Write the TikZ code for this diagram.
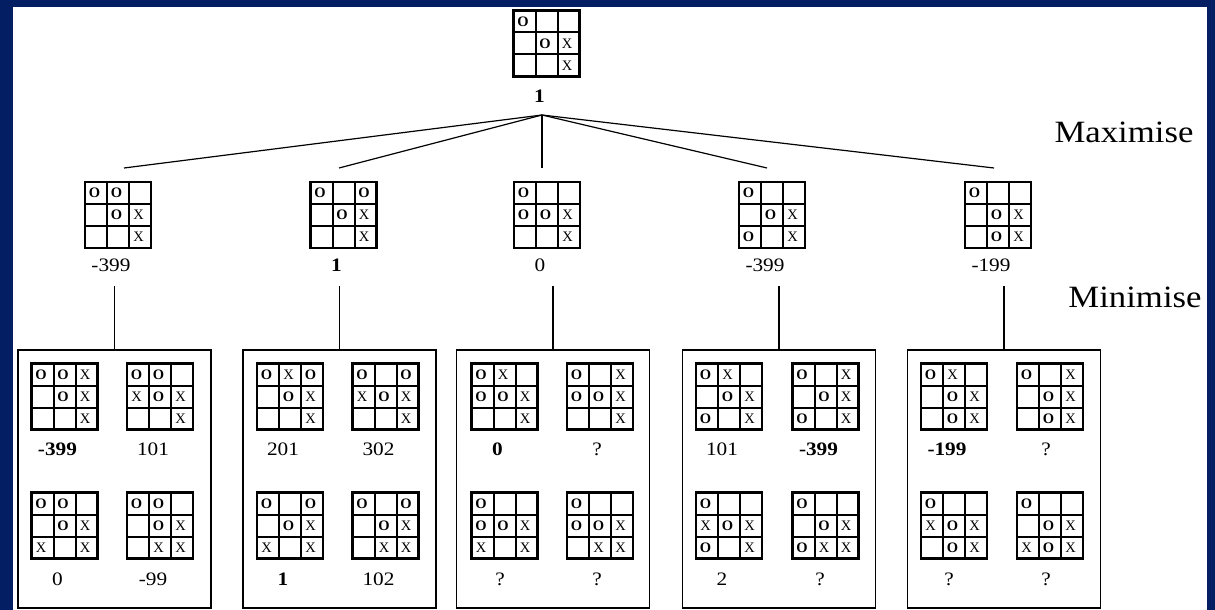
\documentclass[tikz,border=0pt]{standalone}
\usepackage{fontspec}
\setmainfont{Liberation Serif}[FakeStretch=1.12]
\newfontfamily\cellfont{Liberation Serif}
\usetikzlibrary{calc}
\definecolor{navy}{RGB}{4,30,100}
\newcommand{\markO}{\textbf{O}}
\newcommand{\markX}{X}
\tikzset{
  boardbox/.style={draw, line width=2.2pt, minimum width=66pt, minimum height=66pt, inner sep=0pt, outer sep=0pt},
  gridline/.style={line width=2pt},
  cellmark/.style={font=\cellfont\fontsize{14.5}{14.5}\selectfont, inner sep=0pt},
  val/.style={anchor=base, font=\fontsize{19}{22}\selectfont, inner sep=0pt},
  valb/.style={anchor=base, font=\fontsize{19}{22}\selectfont\bfseries, inner sep=0pt},
  side/.style={anchor=base, font=\fontsize{31}{34}\selectfont, inner sep=0pt},
  groupbox/.style={draw, line width=1.6pt, minimum width=193pt, minimum height=258pt, inner sep=0pt, outer sep=0pt},
  conn/.style={line width=1.2pt},
}
% \tttboard{name}{(x,y)}{c/r/symbol list}
\newcommand{\tttboard}[3]{%
  \node[boardbox] (#1) at #2 {};
  \draw[gridline] ($(#1.north west)+(22,0)$) -- ($(#1.south west)+(22,0)$);
  \draw[gridline] ($(#1.north west)+(44,0)$) -- ($(#1.south west)+(44,0)$);
  \draw[gridline] ($(#1.north west)+(0,22)$) -- ($(#1.north east)+(0,22)$);
  \draw[gridline] ($(#1.north west)+(0,44)$) -- ($(#1.north east)+(0,44)$);
  \foreach \c/\r/\s in {#3} {
    \node[cellmark] (#1-\c-\r) at ($(#1.north west)+({\c*22+9.5},{\r*22+11})$) {\s};
  }
}
\begin{document}
\begin{tikzpicture}[x=1pt,y=-1pt]
\useasboundingbox (0,0) rectangle (1215,610);
\fill[navy] (0,0) rectangle (1215,610);
\fill[white] (13,7) rectangle (1207,610);

% root
\tttboard{root}{(546.5,43.5)}{0/0/\markO,1/1/\markO,2/1/\markX,2/2/\markX}
\node[valb] (rootv) at (539.5,102) {1};
\coordinate (j) at (542,115);

% level 1
\tttboard{b1}{(118,215)}{0/0/\markO,1/0/\markO,1/1/\markO,2/1/\markX,2/2/\markX}
\tttboard{b2}{(343.5,215)}{0/0/\markO,2/0/\markO,1/1/\markO,2/1/\markX,2/2/\markX}
\tttboard{b3}{(547,215)}{0/0/\markO,0/1/\markO,1/1/\markO,2/1/\markX,2/2/\markX}
\tttboard{b4}{(772,215)}{0/0/\markO,1/1/\markO,2/1/\markX,0/2/\markO,2/2/\markX}
\tttboard{b5}{(998,215)}{0/0/\markO,1/1/\markO,2/1/\markX,1/2/\markO,2/2/\markX}
\node[val]  (v1) at (111,271) {-399};
\node[valb] (v2) at (336.5,271) {1};
\node[val]  (v3) at (540,271) {0};
\node[val]  (v4) at (765,271) {-399};
\node[val]  (v5) at (991,271) {-199};

\coordinate (t1) at (124,168);
\coordinate (t2) at (339,168);
\coordinate (t3) at (542,168);
\coordinate (t4) at (767,168);
\coordinate (t5) at (994,168);
\foreach \k in {1,...,5} { \draw[conn] (j) -- (t\k); }

\node[side] (maxl) at (1124,142) {Maximise};
\node[side] (minl) at (1135,307) {Minimise};

% group boxes
\node[groupbox] (box1) at (114.5,479) {};
\node[groupbox] (box2) at (339.5,479) {};
\node[groupbox] (box3) at (553,479) {};
\node[groupbox] (box4) at (779,479) {};
\node[groupbox] (box5) at (1004,479) {};
\coordinate (d1) at (114.5,286);
\coordinate (d2) at (339.5,286);
\coordinate (d3) at (553,286);
\coordinate (d4) at (779,286);
\coordinate (d5) at (1004,286);
\foreach \k in {1,...,5} { \draw[conn] (d\k) -- (box\k.north); }

% box 1
\tttboard{c1a}{(64.5,396.5)}{0/0/\markO,1/0/\markO,2/0/\markX,1/1/\markO,2/1/\markX,2/2/\markX}
\tttboard{c1b}{(160,396.5)}{0/0/\markO,1/0/\markO,0/1/\markX,1/1/\markO,2/1/\markX,2/2/\markX}
\tttboard{c1c}{(64.5,525.5)}{0/0/\markO,1/0/\markO,1/1/\markO,2/1/\markX,0/2/\markX,2/2/\markX}
\tttboard{c1d}{(160,525.5)}{0/0/\markO,1/0/\markO,1/1/\markO,2/1/\markX,1/2/\markX,2/2/\markX}
\node[valb] (w1a) at (57.5,455) {-399};
\node[val]  (w1b) at (153,455) {101};
\node[val]  (w1c) at (57.5,585) {0};
\node[val]  (w1d) at (153,585) {-99};

% box 2
\tttboard{c2a}{(290,396.5)}{0/0/\markO,1/0/\markX,2/0/\markO,1/1/\markO,2/1/\markX,2/2/\markX}
\tttboard{c2b}{(385.5,396.5)}{0/0/\markO,2/0/\markO,0/1/\markX,1/1/\markO,2/1/\markX,2/2/\markX}
\tttboard{c2c}{(290,525.5)}{0/0/\markO,2/0/\markO,1/1/\markO,2/1/\markX,0/2/\markX,2/2/\markX}
\tttboard{c2d}{(385.5,525.5)}{0/0/\markO,2/0/\markO,1/1/\markO,2/1/\markX,1/2/\markX,2/2/\markX}
\node[val]  (w2a) at (283,455) {201};
\node[val]  (w2b) at (378.5,455) {302};
\node[valb] (w2c) at (283,585) {1};
\node[val]  (w2d) at (378.5,585) {102};

% box 3
\tttboard{c3a}{(504.5,396.5)}{0/0/\markO,1/0/\markX,0/1/\markO,1/1/\markO,2/1/\markX,2/2/\markX}
\tttboard{c3b}{(600,396.5)}{0/0/\markO,2/0/\markX,0/1/\markO,1/1/\markO,2/1/\markX,2/2/\markX}
\tttboard{c3c}{(504.5,525.5)}{0/0/\markO,0/1/\markO,1/1/\markO,2/1/\markX,0/2/\markX,2/2/\markX}
\tttboard{c3d}{(600,525.5)}{0/0/\markO,0/1/\markO,1/1/\markO,2/1/\markX,1/2/\markX,2/2/\markX}
\node[valb] (w3a) at (497.5,455) {0};
\node[val]  (w3b) at (597,455) {?};
\node[val]  (w3c) at (500,585) {?};
\node[val]  (w3d) at (597,585) {?};

% box 4
\tttboard{c4a}{(729,396.5)}{0/0/\markO,1/0/\markX,1/1/\markO,2/1/\markX,0/2/\markO,2/2/\markX}
\tttboard{c4b}{(825.5,396.5)}{0/0/\markO,2/0/\markX,1/1/\markO,2/1/\markX,0/2/\markO,2/2/\markX}
\tttboard{c4c}{(729,525.5)}{0/0/\markO,0/1/\markX,1/1/\markO,2/1/\markX,0/2/\markO,2/2/\markX}
\tttboard{c4d}{(825.5,525.5)}{0/0/\markO,1/1/\markO,2/1/\markX,0/2/\markO,1/2/\markX,2/2/\markX}
\node[val]  (w4a) at (722,455) {101};
\node[valb] (w4b) at (818.5,455) {-399};
\node[val]  (w4c) at (722,585) {2};
\node[val]  (w4d) at (820,585) {?};

% box 5
\tttboard{c5a}{(954,396.5)}{0/0/\markO,1/0/\markX,1/1/\markO,2/1/\markX,1/2/\markO,2/2/\markX}
\tttboard{c5b}{(1050,396.5)}{0/0/\markO,2/0/\markX,1/1/\markO,2/1/\markX,1/2/\markO,2/2/\markX}
\tttboard{c5c}{(954,525.5)}{0/0/\markO,0/1/\markX,1/1/\markO,2/1/\markX,1/2/\markO,2/2/\markX}
\tttboard{c5d}{(1050,525.5)}{0/0/\markO,1/1/\markO,2/1/\markX,0/2/\markX,1/2/\markO,2/2/\markX}
\node[valb] (w5a) at (947,455) {-199};
\node[val]  (w5b) at (1046,455) {?};
\node[val]  (w5c) at (949,585) {?};
\node[val]  (w5d) at (1046,585) {?};
\end{tikzpicture}
\end{document}
